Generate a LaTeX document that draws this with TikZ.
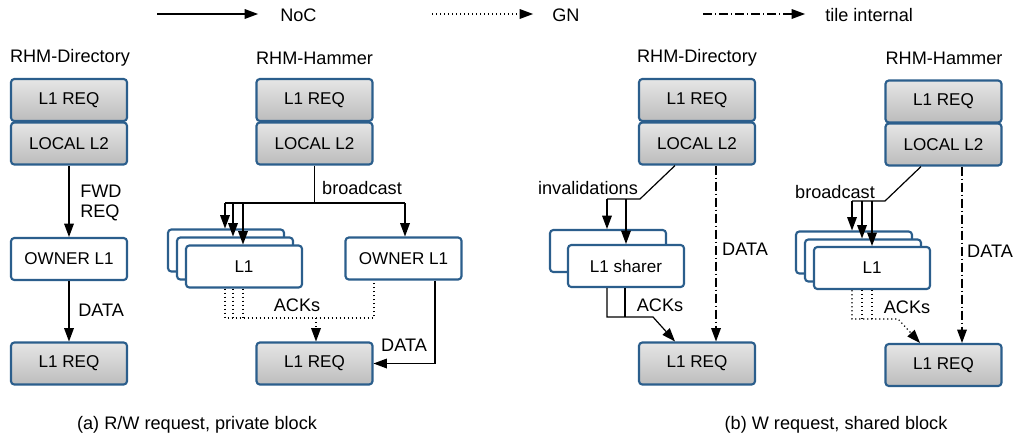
\documentclass[tikz,border=0pt]{standalone}
\usepackage{fontspec}
\setmainfont{Liberation Sans}
\usetikzlibrary{arrows.meta,calc}
\definecolor{boxblue}{HTML}{2B5E8C}
\definecolor{shadetop}{HTML}{E6E6E6}
\definecolor{shadebot}{HTML}{BCBCBC}
\begin{document}
\begin{tikzpicture}[x=0.75pt,y=-0.75pt,
  font=\fontsize{13.6pt}{15pt}\selectfont,
  box/.style={draw=boxblue,line width=1.6pt,rounded corners=2.5pt,
    minimum width=87pt,minimum height=31.5pt,inner sep=0pt,
    font=\fontsize{12.8pt}{14pt}\selectfont},
  greybox/.style={box,top color=shadetop,bottom color=shadebot},
  whitebox/.style={box,fill=white},
  tip/.style={-{Triangle[length=10pt,width=7.5pt,line width=0pt]}},
  wire/.style={line width=0.9pt},
  noc/.style={wire,tip},
  dots/.style={line width=0.9pt,dash pattern=on 0.9pt off 2.1pt},
  gn/.style={dots,tip},
  tile/.style={line width=0.9pt,dash pattern=on 7pt off 2pt on 1pt off 2pt,tip},
  lbl/.style={inner sep=0pt}
]
\useasboundingbox (0,0) rectangle (1014,439);

% ---------- legend ----------
\coordinate (lgA1) at (157,14); \coordinate (lgA2) at (258,14);
\coordinate (lgB1) at (432,14); \coordinate (lgB2) at (533,14);
\coordinate (lgC1) at (703,14); \coordinate (lgC2) at (805,14);
\draw[noc] (lgA1) -- (lgA2);
\draw[gn] (lgB1) -- (lgB2);
\draw[tile] (lgC1) -- (lgC2);
\node[lbl,anchor=west] (lgAt) at (280,15) {NoC};
\node[lbl,anchor=west] (lgBt) at (552,15) {GN};
\node[lbl,anchor=west] (lgCt) at (825,15) {tile internal};

% ---------- titles ----------
\node[lbl] (tA) at (70,58) {RHM-Directory};
\node[lbl] (tB) at (314.5,58) {RHM-Hammer};
\node[lbl] (tC) at (697,58) {RHM-Directory};
\node[lbl] (tD) at (944,58) {RHM-Hammer};

% ---------- (a) RHM-Directory, private ----------
\node[greybox] (a1req) at (69,100) {L1 REQ};
\node[greybox] (a1l2) at (69,143.5) {LOCAL L2};
\node[whitebox] (a1own) at (69,259) {OWNER L1};
\node[greybox] (a1bot) at (69,363.5) {L1 REQ};
\draw[noc] (a1l2) -- (a1own);
\draw[noc] (a1own) -- (a1bot);
\node[lbl,anchor=west,align=left] (a1fwd) at (80,203) {FWD\\REQ};
\node[lbl,anchor=west] (a1data) at (78,310) {DATA};

% ---------- (a) RHM-Hammer, private ----------
\node[greybox] (b1req) at (314.5,100) {L1 REQ};
\node[greybox] (b1l2) at (314.5,143.5) {LOCAL L2};
\node[whitebox] (b1s1) at (226,250.5) {};
\node[whitebox] (b1s2) at (235,258.5) {};
\node[whitebox] (b1s3) at (244,266.5) {L1};
\node[whitebox] (b1own) at (403.5,258.5) {OWNER L1};
\node[greybox] (b1bot) at (314.5,363.5) {L1 REQ};
\draw[wire] (b1l2.south) -- (314.5,203);
\draw[wire] (225,203) -- (405,203);
\draw[noc] (225,203) -- (b1s1.north -| 225,0);
\draw[noc] (233,203) -- (b1s2.north -| 233,0);
\draw[noc] (243,203) -- (b1s3.north -| 243,0);
\draw[noc] (405,203) -- (b1own.north -| 405,0);
\node[lbl] (b1bc) at (362,188) {broadcast};
\draw[dots] (b1s3.south -| 225,0) -- (225,318) -- (374,318) -- (b1own.south -| 374,0);
\draw[dots] (b1s3.south -| 233,0) -- (233,318);
\draw[dots] (b1s3.south -| 243,0) -- (243,318);
\draw[gn] (316,318) -- (b1bot.north -| 316,0);
\node[lbl] (b1ack) at (297,305) {ACKs};
\draw[noc] (b1own.south -| 435,0) |- (b1bot.east);
\node[lbl] (b1data) at (404,345) {DATA};

% ---------- (b) RHM-Directory, shared ----------
\node[greybox] (c1req) at (697,100) {L1 REQ};
\node[greybox] (c1l2) at (697,143.5) {LOCAL L2};
\node[whitebox] (c1s1) at (608,251) {};
\node[whitebox] (c1s2) at (626,266) {L1 sharer};
\node[greybox] (c1bot) at (697,363.5) {L1 REQ};
\draw[wire] (c1l2.south -| 675,0) -- (640,199) -- (607,199);
\draw[noc] (607,199) -- (c1s1.north -| 607,0);
\draw[noc] (626,199) -- (c1s2.north -| 626,0);
\node[lbl] (c1inv) at (588,188) {invalidations};
\draw[tile] (c1l2.south -| 716,0) -- (c1bot.north -| 716,0);
\node[lbl] (c1data) at (745,249) {DATA};
\draw[noc] (c1s2.south -| 607,0) -- (607,317) -- (653,317) -- (c1bot.north -| 675,0);
\draw[wire] (c1s2.south -| 625,0) -- (625,317);
\node[lbl] (c1ack) at (660,305) {ACKs};

% ---------- (b) RHM-Hammer, shared ----------
\node[greybox] (d1req) at (943.5,101.5) {L1 REQ};
\node[greybox] (d1l2) at (943.5,144.5) {LOCAL L2};
\node[whitebox] (d1s1) at (854,252.5) {};
\node[whitebox] (d1s2) at (863,260.5) {};
\node[whitebox] (d1s3) at (872,268) {L1};
\node[greybox] (d1bot) at (943.5,365) {L1 REQ};
\draw[wire] (d1l2.south -| 921,0) -- (885,201) -- (852,201);
\draw[noc] (852,201) -- (d1s1.north -| 852,0);
\draw[noc] (862,201) -- (d1s2.north -| 862,0);
\draw[noc] (872,201) -- (d1s3.north -| 872,0);
\node[lbl] (d1bc) at (835,192) {broadcast};
\draw[gn] (d1s3.south -| 852,0) -- (852,319) -- (898,319) -- (d1bot.north -| 920,0);
\draw[dots] (d1s3.south -| 862,0) -- (862,319);
\draw[dots] (d1s3.south -| 872,0) -- (872,319);
\node[lbl] (d1ack) at (907,307) {ACKs};
\draw[tile] (d1l2.south -| 962,0) -- (d1bot.north -| 962,0);
\node[lbl] (d1data) at (990,251) {DATA};

% ---------- captions ----------
\node[lbl] (capA) at (197,425) {(a) R/W request, private block};
\node[lbl] (capB) at (836,425) {(b) W request, shared block};
\end{tikzpicture}
\end{document}
